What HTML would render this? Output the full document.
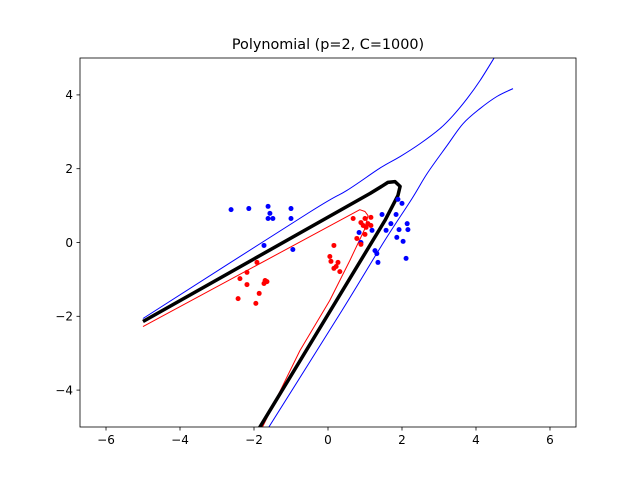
<!DOCTYPE html>
<html><head><meta charset="utf-8"><style>body{margin:0;background:#fff}svg{display:block}text{font-family:"DejaVu Sans","Liberation Sans",sans-serif}</style></head>
<body>
<svg id="c" width="640" height="480"></svg>
<script>
const xTicks=[-6,-4,-2,0,2,4,6];
const yTicks=[-4,-2,0,2,4];
const blueX=[-2.62,-2.14,-1.62,-1.57,-1.49,-1.62,-1.00,-1.00,-1.73,-0.95,1.89,2.00,1.46,1.84,1.70,2.14,2.16,1.92,1.57,1.19,0.84,1.86,2.03,0.89,1.27,1.32,1.35,2.11];
const blueY=[0.89,0.92,0.98,0.79,0.65,0.65,0.92,0.65,-0.08,-0.19,1.17,1.06,0.76,0.76,0.51,0.51,0.35,0.35,0.33,0.33,0.27,0.14,0.03,0.00,-0.22,-0.30,-0.54,-0.43];
const redX=[0.68,1.00,1.16,0.89,0.95,1.08,1.03,1.16,1.00,0.78,0.89,0.16,0.05,0.08,0.27,0.22,0.16,0.32,-1.92,-2.19,-2.38,-1.70,-1.65,-2.19,-1.73,-1.86,-2.43,-1.95];
const redY=[0.65,0.65,0.68,0.54,0.46,0.51,0.41,0.46,0.22,0.11,-0.05,-0.08,-0.38,-0.51,-0.54,-0.65,-0.70,-0.79,-0.54,-0.81,-0.98,-1.03,-1.06,-1.14,-1.11,-1.38,-1.52,-1.65];
const blackCX=[-5,1.14,1.45,1.62,1.81,1.95,1.89,1.54,-1.9];
const blackCY=[-2.14,1.33,1.52,1.63,1.65,1.52,1.27,0.60,-5.1];
const blueUX=[-5,-0.5,0.51,1.41,1.95,2.49,3.03,3.38,3.76,4.11,4.55];
const blueUY=[-2.06,0.82,1.41,2.02,2.33,2.68,3.09,3.44,3.90,4.39,5.1];
const blueLX=[-1.66,0.38,1.5,2.27,2.68,3.22,3.65,4.11,4.57,5.0];
const blueLY=[-5.1,-1.84,0.0,1.19,1.87,2.63,3.22,3.63,3.96,4.17];
const redCX=[-5,0.86,1.0,1.08,1.0,0.59,0.05,-0.76,-1.82];
const redCY=[-2.28,0.89,0.84,0.73,0.38,-0.49,-1.57,-2.93,-5.1];

const L=80,R=576,T=58,B=427,X0=-6.703,X1=6.703,Y0=-5,Y1=5;
const sx=v=>L+(v-X0)/(X1-X0)*(R-L), sy=v=>B-(v-Y0)/(Y1-Y0)*(B-T);
const svg=document.getElementById('c'),NS='http://www.w3.org/2000/svg';
function mk(t,a,p){const e=document.createElementNS(NS,t);for(const k in a)e.setAttribute(k,a[k]);(p||svg).appendChild(e);return e;}
const defs=mk('defs',{});const cp=mk('clipPath',{id:'clip'},defs);mk('rect',{x:L,y:T,width:R-L,height:B-T},cp);
const g=mk('g',{'clip-path':'url(#clip)'});
function pathD(xs,ys,smooth){const P=xs.map((x,i)=>[sx(x),sy(ys[i])]);
 if(!smooth)return P.map((p,i)=>(i?'L':'M')+p[0].toFixed(1)+','+p[1].toFixed(1)).join('');
 let d='M'+P[0][0]+','+P[0][1];
 for(let i=0;i<P.length-1;i++){const p0=P[Math.max(i-1,0)],p1=P[i],p2=P[i+1],p3=P[Math.min(i+2,P.length-1)];
  const c1=[p1[0]+(p2[0]-p0[0])/6,p1[1]+(p2[1]-p0[1])/6],c2=[p2[0]-(p3[0]-p1[0])/6,p2[1]-(p3[1]-p1[1])/6];
  d+='C'+c1.join(',')+' '+c2.join(',')+' '+p2.join(',');}
 return d;}
function line(xs,ys,col,w,name,smooth){
 const p=mk('path',{d:pathD(xs,ys,smooth),fill:'none',stroke:col,'stroke-width':w,'stroke-linejoin':'round'},g);
 
 }
line(blueUX,blueUY,'#0000ff',1,'upper-margin-line',true);
line(blueLX,blueLY,'#0000ff',1,'lower-margin-line',true);
line(redCX,redCY,'#ff0000',1,'red-contour',false);
line(blackCX,blackCY,'#000',3.5,'decision-boundary',false);
function pts(xs,ys,col,name){xs.forEach((x,i)=>{const c=mk('circle',{cx:sx(x),cy:sy(ys[i]),r:2.5,fill:col},g);
 
 });}
pts(blueX,blueY,'#0000ff','blue-point');
pts(redX,redY,'#ff0000','red-point');
const fr=mk('rect',{x:L,y:T,width:R-L,height:B-T,fill:'none',stroke:'#000','stroke-width':0.8});


xTicks.forEach(v=>{const x=sx(v);mk('line',{x1:x,x2:x,y1:B,y2:B+3.5,stroke:'#000','stroke-width':0.8});
 const t=mk('text',{x:x,y:B+17,'font-size':12,'text-anchor':'middle'});t.textContent=v<0?'\u2212'+(-v):v;
 
 });
yTicks.forEach(v=>{const y=sy(v);mk('line',{x1:L,x2:L-3.5,y1:y,y2:y,stroke:'#000','stroke-width':0.8});
 const t=mk('text',{x:L-7,y:y+4.3,'font-size':12,'text-anchor':'end'});t.textContent=v<0?'\u2212'+(-v):v;
 
 });
const ti=mk('text',{x:(L+R)/2,y:49,'font-size':14.4,'text-anchor':'middle'});ti.textContent='Polynomial (p=2, C=1000)';


</script>
</body></html>
